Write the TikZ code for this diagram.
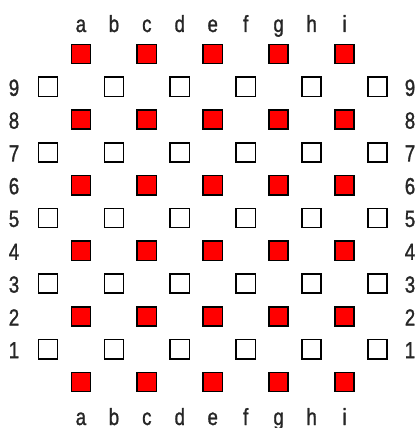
\documentclass[tikz,border=0pt]{standalone}
\usepackage{fontspec}
\setmainfont{Liberation Sans}[FakeStretch=0.8,FakeBold=1.2]
\begin{document}
\begin{tikzpicture}[x=0.75pt,y=-0.75pt,
  sq/.style={draw=black,line width=1.2pt,minimum size=14.4pt,inner sep=0pt,outer sep=0pt},
  redsq/.style={sq,fill=red},
  whitesq/.style={sq,fill=white},
  lab/.style={font=\fontsize{17.5}{19}\selectfont,inner sep=0pt,text=black!85}]
\useasboundingbox (0,0) rectangle (418,428);
% red squares
\foreach \j in {0,2,...,10}
  \foreach \k in {1,3,...,9}
    \node[redsq] (r-\j-\k) at ({48+32.95*\k},{54+32.8*\j}) {};
% white squares
\foreach \j in {1,3,...,9}
  \foreach \k in {0,2,...,10}
    \node[whitesq] (w-\j-\k) at ({48+32.95*\k},{54+32.8*\j}) {};
% column letters
\foreach \l [count=\k] in {a,b,c,d,e,f,g,h,i} {
  \node[lab,anchor=base] (top-\l) at ({48+32.95*\k},32) {\l};
  \node[lab,anchor=base] (bot-\l) at ({48+32.95*\k},425) {\l};
}
% row numbers
\foreach \n in {1,...,9} {
  \node[lab] (left-\n) at (14,{55+32.8*(10-\n)}) {\n};
  \node[lab] (right-\n) at (410,{55+32.8*(10-\n)}) {\n};
}
\end{tikzpicture}
\end{document}
